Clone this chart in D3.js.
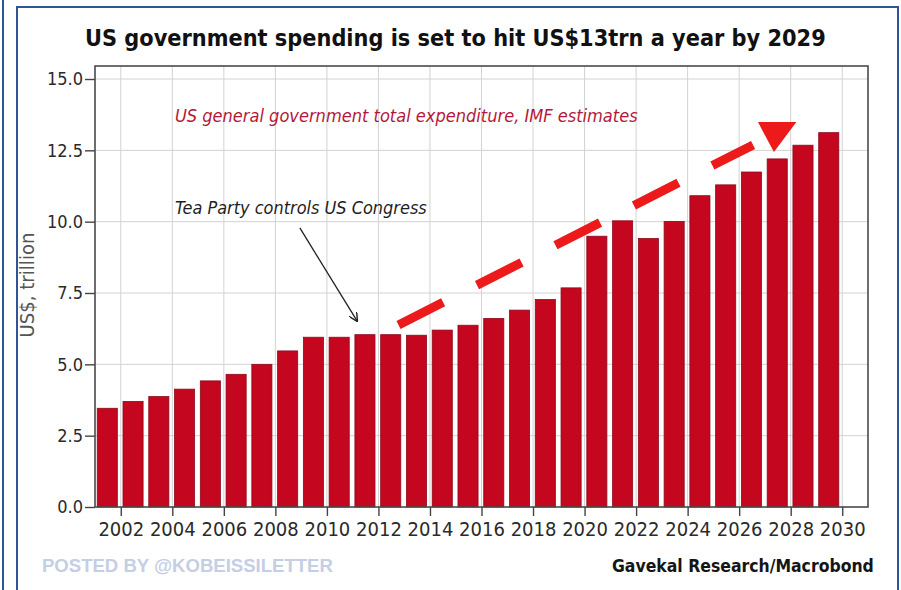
<!DOCTYPE html>
<html>
<head>
<meta charset="utf-8">
<script src="https://cdn.jsdelivr.net/npm/d3@7"></script>
<style>
  html, body { margin: 0; padding: 0; background: #fff; }
  svg { display: block; }
  .narrow { font-family: "Liberation Sans Narrow", "DejaVu Sans Condensed", "Arial Narrow", sans-serif; }
</style>
</head>
<body>
<svg id="chart" width="901" height="590"></svg>
<script>
// US general government total expenditure, US$ trillion (IMF estimates)
const years = [2001, 2002, 2003, 2004, 2005, 2006, 2007, 2008, 2009, 2010,
               2011, 2012, 2013, 2014, 2015, 2016, 2017, 2018, 2019, 2020,
               2021, 2022, 2023, 2024, 2025, 2026, 2027, 2028, 2029];
const spending = [3.46, 3.70, 3.87, 4.13, 4.42, 4.65, 5.00, 5.47, 5.95, 5.95,
                  6.04, 6.04, 6.02, 6.20, 6.37, 6.61, 6.90, 7.27, 7.68, 9.49,
                  10.03, 9.41, 10.01, 10.91, 11.29, 11.74, 12.20, 12.68, 13.12];
const yTicks = [0, 2.5, 5, 7.5, 10, 12.5, 15];
const xTicks = [2002, 2004, 2006, 2008, 2010, 2012, 2014, 2016, 2018, 2020,
                2022, 2024, 2026, 2028, 2030];

const titleText = "US government spending is set to hit US$13trn a year by 2029";
const subtitleText = "US general government total expenditure, IMF estimates";
const noteText = "Tea Party controls US Congress";
const sourceText = "Gavekal Research/Macrobond";
const creditText = "POSTED BY @KOBEISSILETTER";
const yLabel = "US$, trillion";

const svg = d3.select("#chart");
const plot = { left: 95, right: 868, top: 66, bottom: 507 };

const x = d3.scaleLinear().domain([2001, 2031]).range([plot.left, plot.right]);
const y = d3.scaleLinear().domain([0, 15]).range([plot.bottom, 79]);

// scale a text's font size so that its natural width equals `width`
function fitWidth(sel, width) {
  const node = sel.node();
  const size = parseFloat(sel.style("font-size"));
  const w = node.getComputedTextLength();
  sel.style("font-size", (size * width / w).toFixed(2) + "px");
  return sel;
}

// page frame
const frameBlue = "#2f5597";
svg.append("line").attr("x1", 3).attr("x2", 3).attr("y1", 0).attr("y2", 590)
  .attr("stroke", frameBlue).attr("stroke-width", 2);
svg.append("path").attr("d", "M17,590 V7 H898 V590")
  .attr("fill", "none").attr("stroke", frameBlue).attr("stroke-width", 2);

// title
fitWidth(svg.append("text").attr("class", "narrow")
  .attr("x", 85).attr("y", 46)
  .style("font-size", "25px").style("font-weight", "bold").attr("fill", "#111")
  .text(titleText), 741);

// gridlines
const grid = svg.append("g").attr("stroke", "#d2d2d2").attr("stroke-width", 1);
grid.selectAll("line.h").data(yTicks.filter(d => d > 0)).join("line")
  .attr("x1", plot.left).attr("x2", plot.right)
  .attr("y1", d => y(d)).attr("y2", d => y(d));
grid.selectAll("line.v").data(xTicks).join("line")
  .attr("x1", d => x(d)).attr("x2", d => x(d))
  .attr("y1", plot.top).attr("y2", plot.bottom);

// bars
const slot = x(2002) - x(2001);
const barW = slot * 0.78;
svg.append("g").selectAll("rect").data(years).join("rect")
  .attr("x", (d) => x(d) + (slot - barW) / 2 - 0.6)
  .attr("width", barW)
  .attr("y", (d, i) => y(spending[i]))
  .attr("height", (d, i) => y(0) - y(spending[i]))
  .attr("fill", "#c5061f")
  .attr("stroke", "#8e0a1a").attr("stroke-width", 0.8);

// plot frame
svg.append("rect")
  .attr("x", plot.left).attr("y", plot.top)
  .attr("width", plot.right - plot.left).attr("height", plot.bottom - plot.top)
  .attr("fill", "none").attr("stroke", "#4a4a4a").attr("stroke-width", 1.6);

// axes
const yAxis = svg.append("g").attr("class", "narrow")
  .attr("transform", `translate(${plot.left},0)`)
  .call(d3.axisLeft(y).tickValues(yTicks).tickFormat(d3.format(".1f"))
    .tickSize(10).tickPadding(2));
const xAxis = svg.append("g").attr("class", "narrow")
  .attr("transform", `translate(0,${plot.bottom})`)
  .call(d3.axisBottom(x).tickValues(xTicks).tickFormat(d3.format("d"))
    .tickSize(9).tickPadding(6));
[yAxis, xAxis].forEach(g => {
  g.select(".domain").remove();
  g.selectAll(".tick line").attr("stroke", "#444").attr("stroke-width", 1.4);
  g.selectAll(".tick text").attr("fill", "#2a2a2a")
    .style("font-family", "\"Liberation Sans Narrow\", \"DejaVu Sans Condensed\", sans-serif");
});
yAxis.selectAll(".tick text").style("font-size", "18px");
xAxis.selectAll(".tick text").style("font-size", "20px");

// y-axis title
fitWidth(svg.append("text").attr("class", "narrow")
  .attr("transform", `translate(34,${(y(15) + y(0)) / 2 - 8}) rotate(-90)`)
  .attr("text-anchor", "middle")
  .style("font-size", "17px").attr("fill", "#555")
  .text(yLabel), 105);

// subtitle inside the plot
fitWidth(svg.append("text").attr("class", "narrow")
  .attr("x", x(2004.1)).attr("y", y(13.5))
  .style("font-size", "18px").style("font-style", "italic")
  .attr("fill", "#b3183a")
  .text(subtitleText), 463);

// Tea Party annotation with arrow
svg.append("defs").append("marker")
  .attr("id", "head").attr("viewBox", "0 0 10 10")
  .attr("refX", 9).attr("refY", 5)
  .attr("markerWidth", 9).attr("markerHeight", 9)
  .attr("markerUnits", "userSpaceOnUse").attr("orient", "auto")
  .append("path").attr("d", "M0,0 L10,5 L0,10")
  .attr("fill", "none").attr("stroke", "#222").attr("stroke-width", 1.6);

fitWidth(svg.append("text").attr("class", "narrow")
  .attr("x", x(2004.1)).attr("y", y(10.28))
  .style("font-size", "18px").style("font-style", "italic")
  .attr("fill", "#1e1e1e")
  .text(noteText), 252);

svg.append("line")
  .attr("x1", x(2008.95)).attr("y1", y(9.78))
  .attr("x2", x(2011.17)).attr("y2", y(6.52))
  .attr("stroke", "#222").attr("stroke-width", 1.3)
  .attr("marker-end", "url(#head)");

// dashed trend arrow
svg.append("line")
  .attr("x1", x(2012.78)).attr("y1", y(6.38))
  .attr("x2", x(2026.54)).attr("y2", y(12.69))
  .attr("stroke", "#ec1a1a").attr("stroke-width", 9)
  .attr("stroke-dasharray", "50 38");
svg.append("path")
  .attr("d", d3.line()([
    [x(2026.73), y(13.49)], [x(2028.22), y(13.49)], [x(2027.35), y(12.44)]
  ]) + "Z")
  .attr("fill", "#ec1a1a");

// credits
fitWidth(svg.append("text")
  .attr("x", 42).attr("y", 572)
  .style("font-family", "\"Liberation Sans\", Arial, sans-serif")
  .style("font-size", "18px").style("font-weight", "bold")
  .attr("fill", "#c4cee4")
  .text(creditText), 291);
fitWidth(svg.append("text").attr("class", "narrow")
  .attr("x", 612).attr("y", 572)
  .style("font-size", "20px").style("font-weight", "bold")
  .attr("fill", "#151515")
  .text(sourceText), 262);
</script>
</body>
</html>
